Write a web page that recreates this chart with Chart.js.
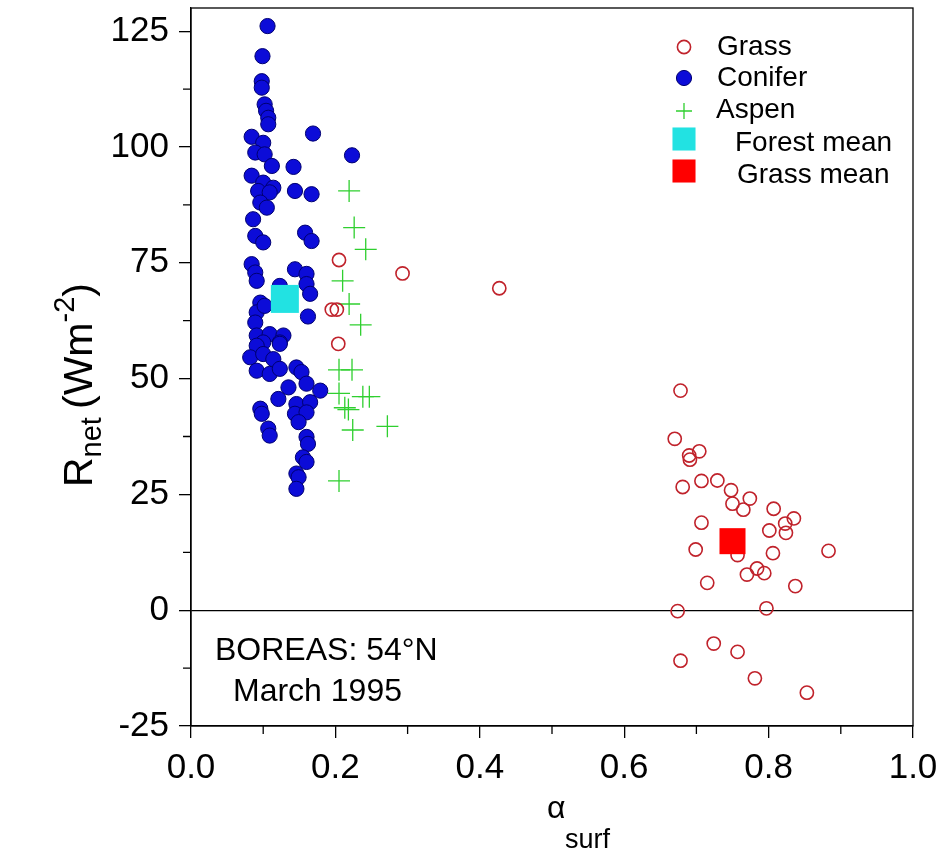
<!DOCTYPE html>
<html><head><meta charset="utf-8">
<script src="https://cdn.jsdelivr.net/npm/chart.js@4.4.1/dist/chart.umd.min.js"></script>
<style>html,body{margin:0;padding:0;background:#fff;}#wrap{width:951px;height:855px;}</style>
</head><body><div id="wrap"><canvas id="c" width="951" height="855"></canvas></div>
<script>
// ---- data (albedo, Rnet W m-2) ----
const grass = [
 [0.205,75.6],[0.293,72.7],[0.427,69.5],[0.195,64.9],[0.202,64.9],[0.204,57.5],
 [0.678,47.4],[0.670,37.0],[0.704,34.3],[0.690,33.4],[0.691,32.5],[0.681,26.6],
 [0.707,27.9],[0.729,28.0],[0.748,25.9],[0.750,23.0],[0.774,24.1],[0.765,21.7],
 [0.807,21.9],[0.835,19.8],[0.823,18.7],[0.824,16.7],[0.801,17.2],[0.707,18.9],
 [0.699,13.1],[0.757,11.9],[0.806,12.3],[0.883,12.8],[0.770,7.7],[0.784,9.0],
 [0.794,8.0],[0.715,5.9],[0.837,5.2],[0.674,-0.2],[0.797,0.4],[0.724,-7.2],
 [0.757,-9.0],[0.678,-10.9],[0.781,-14.7],[0.853,-17.8]
];
const conifer = [
 [0.106,126.1],[0.099,119.6],[0.098,114.2],[0.098,112.8],[0.102,109.2],[0.104,107.8],
 [0.107,106.3],[0.107,104.9],[0.169,102.9],[0.084,102.2],[0.100,100.9],[0.089,98.8],
 [0.102,98.4],[0.223,98.2],[0.112,95.9],[0.142,95.7],[0.084,93.8],[0.100,92.3],
 [0.114,91.2],[0.144,90.5],[0.167,89.8],[0.093,90.5],[0.109,90.2],[0.096,88.0],
 [0.105,86.9],[0.086,84.4],[0.089,80.8],[0.100,79.4],[0.158,81.5],[0.167,79.7],
 [0.084,74.7],[0.089,72.9],[0.091,71.1],[0.144,73.6],[0.160,72.6],[0.160,70.4],
 [0.165,68.3],[0.123,70.0],[0.162,63.4],[0.096,66.4],[0.091,64.3],[0.102,65.7],
 [0.089,62.1],[0.091,59.3],[0.109,59.6],[0.128,59.3],[0.100,57.8],[0.123,57.8],
 [0.091,57.1],[0.123,57.5],[0.082,54.6],[0.100,55.3],[0.114,54.2],[0.091,51.7],
 [0.109,51.0],[0.123,52.1],[0.146,52.4],[0.153,51.4],[0.160,48.9],[0.179,47.4],
 [0.135,48.1],[0.121,45.6],[0.146,44.5],[0.165,44.9],[0.144,42.4],[0.160,42.7],
 [0.149,40.6],[0.096,43.5],[0.098,42.4],[0.107,39.2],[0.109,37.7],[0.160,37.4],
 [0.162,35.9],[0.155,33.0],[0.160,32.0],[0.146,29.5],[0.149,28.7],[0.146,26.2]
];
const aspen = [
 [0.219,90.5],[0.226,82.6],[0.242,77.9],[0.210,71.1],[0.219,66.1],[0.235,61.6],
 [0.205,51.9],[0.223,51.9],[0.205,46.8],[0.238,46.1],[0.247,46.1],[0.213,43.7],
 [0.218,43.3],[0.224,38.9],[0.272,39.7],[0.205,27.9]
];
const forestMean = [[0.130,67.2]];
const grassMean = [[0.750,14.9]];
const xTicks = [0, 0.2, 0.4, 0.6, 0.8, 1.0];
const xMinor = [0.1, 0.3, 0.5, 0.7, 0.9];
const yTicks = [-25, 0, 25, 50, 75, 100, 125];
const yMinor = [-12.5, 12.5, 37.5, 62.5, 87.5, 112.5];
const legendLabels = ['Grass', 'Conifer', 'Aspen', 'Forest mean', 'Grass mean'];
const noteLines = ['BOREAS: 54°N', 'March 1995'];

const FONT = 'Liberation Sans, Arial, sans-serif';
const pts = a => a.map(([x, y]) => ({x, y}));

const styles = {
  grass:   {pointStyle:'circle', radius:6.6, borderColor:'#c0222b', backgroundColor:'rgba(0,0,0,0)', borderWidth:1.6},
  conifer: {pointStyle:'circle', radius:7.6, borderColor:'#000070', backgroundColor:'#0c0cd8', borderWidth:1},
  aspen:   {pointStyle:'cross',  radius:11,  borderColor:'#2fcf2f', backgroundColor:'#2fcf2f', borderWidth:1.3},
  fmean:   {pointStyle:'rect',   radius:19.8, borderColor:'#22e2e2', backgroundColor:'#22e2e2', borderWidth:0},
  gmean:   {pointStyle:'rect',   radius:18.4, borderColor:'#ff0000', backgroundColor:'#ff0000', borderWidth:0}
};
function ds(label, data, st, order) {
  return {label, data: pts(data), order, showLine:false,
    pointStyle: st.pointStyle, pointRadius: st.radius, pointHoverRadius: st.radius,
    pointBorderColor: st.borderColor, pointBackgroundColor: st.backgroundColor,
    pointBorderWidth: st.borderWidth, pointHoverBorderWidth: st.borderWidth};
}

function drawMarker(ctx, st, x, y, r) {
  ctx.save();
  ctx.fillStyle = st.backgroundColor; ctx.strokeStyle = st.borderColor; ctx.lineWidth = st.borderWidth;
  if (Chart.helpers && Chart.helpers.drawPoint) {
    Chart.helpers.drawPoint(ctx, {pointStyle: st.pointStyle, radius: r, rotation: 0, borderWidth: st.borderWidth}, x, y);
  }
  ctx.restore();
}

const decor = {
  id: 'decor',
  afterDraw(chart) {
    const ctx = chart.ctx, a = chart.chartArea;
    const xs = chart.scales.x, ys = chart.scales.y;
    ctx.save();
    ctx.strokeStyle = '#000'; ctx.lineWidth = 1.3;
    ctx.strokeRect(a.left, a.top, a.right - a.left, a.bottom - a.top);
    ctx.beginPath();
    xMinor.forEach(v => { const p = xs.getPixelForValue(v); ctx.moveTo(p, a.bottom); ctx.lineTo(p, a.bottom + 8); });
    yMinor.forEach(v => { const p = ys.getPixelForValue(v); ctx.moveTo(a.left - 8, p); ctx.lineTo(a.left, p); });
    ctx.stroke();

    // legend
    const lx = 684, rows = [47, 78, 111, 139, 171];
    const keys = ['grass', 'conifer', 'aspen', 'fmean', 'gmean'];
    const lr = [6.6, 7.6, 8, 16.3, 16.3];
    keys.forEach((k, i) => drawMarker(ctx, styles[k], lx, rows[i], lr[i]));
    ctx.fillStyle = '#000'; ctx.textBaseline = 'middle'; ctx.textAlign = 'left';
    ctx.font = '28px ' + FONT;
    const ty = [47, 78, 110, 143, 175];
    const tx = [717, 717, 716, 735, 737];
    legendLabels.forEach((t, i) => ctx.fillText(t, tx[i], ty[i]));

    // note
    ctx.textBaseline = 'alphabetic';
    ctx.font = '32px ' + FONT;
    ctx.fillText(noteLines[0], 215, 660);
    ctx.fillText(noteLines[1], 233, 701);

    // x title
    ctx.font = '32px ' + FONT;
    ctx.fillText('α', 547, 818);
    ctx.font = '27px ' + FONT;
    ctx.fillText('surf', 565, 848);

    // y title
    ctx.save();
    ctx.translate(92, 487);
    ctx.rotate(-Math.PI / 2);
    let x = 0;
    ctx.font = '41px ' + FONT; ctx.fillText('R', x, 0); x += ctx.measureText('R').width;
    ctx.font = '29px ' + FONT; ctx.fillText('net', x, 9); x += ctx.measureText('net ').width;
    ctx.font = '41px ' + FONT; ctx.fillText('(Wm', x, 0); x += ctx.measureText('(Wm').width;
    ctx.font = '29px ' + FONT; ctx.fillText('-2', x, -18); x += ctx.measureText('-2').width;
    ctx.font = '41px ' + FONT; ctx.fillText(')', x, 0);
    ctx.restore();
    ctx.restore();
  }
};

new Chart(document.getElementById('c'), {
  type: 'scatter',
  data: {datasets: [
    ds('Forest mean', forestMean, styles.fmean, 1),
    ds('Grass mean', grassMean, styles.gmean, 1),
    ds('Grass', grass, styles.grass, 3),
    ds('Aspen', aspen, styles.aspen, 4),
    ds('Conifer', conifer, styles.conifer, 5)
  ]},
  options: {
    responsive: false, devicePixelRatio: 1, animation: false,
    events: [],
    layout: {padding: {left: 0, right: 38, top: 8, bottom: 0}, autoPadding: false},
    plugins: {legend: {display: false}, tooltip: {enabled: false}},
    scales: {
      x: {
        type: 'linear', min: 0, max: 1,
        afterBuildTicks: s => { s.ticks = xTicks.map(v => ({value: v})); },
        afterFit: s => { s.height = 129; s.paddingLeft = 0; s.paddingRight = 0; },
        ticks: {font: {family: FONT, size: 35}, color: '#000', padding: 9, maxRotation: 0, autoSkip: false,
          callback: v => Number(v).toFixed(1)},
        grid: {drawOnChartArea: false, color: '#000', tickLength: 12, lineWidth: 1.3},
        border: {display: true, color: '#000', width: 1.3}
      },
      y: {
        type: 'linear', min: -25, max: 130,
        afterBuildTicks: s => { s.ticks = yTicks.map(v => ({value: v})); },
        afterFit: s => { s.width = 191; s.paddingTop = 0; s.paddingBottom = 0; },
        ticks: {font: {family: FONT, size: 35}, color: '#000', padding: 10, autoSkip: false,
          callback: v => String(v)},
        grid: {drawOnChartArea: true, lineWidth: 1.3, tickLength: 12, tickColor: '#000',
          color: c => (c.tick && c.tick.value === 0) ? '#000' : 'rgba(0,0,0,0)'},
        border: {display: true, color: '#000', width: 1.3}
      }
    }
  },
  plugins: [decor]
});
</script></body></html>
